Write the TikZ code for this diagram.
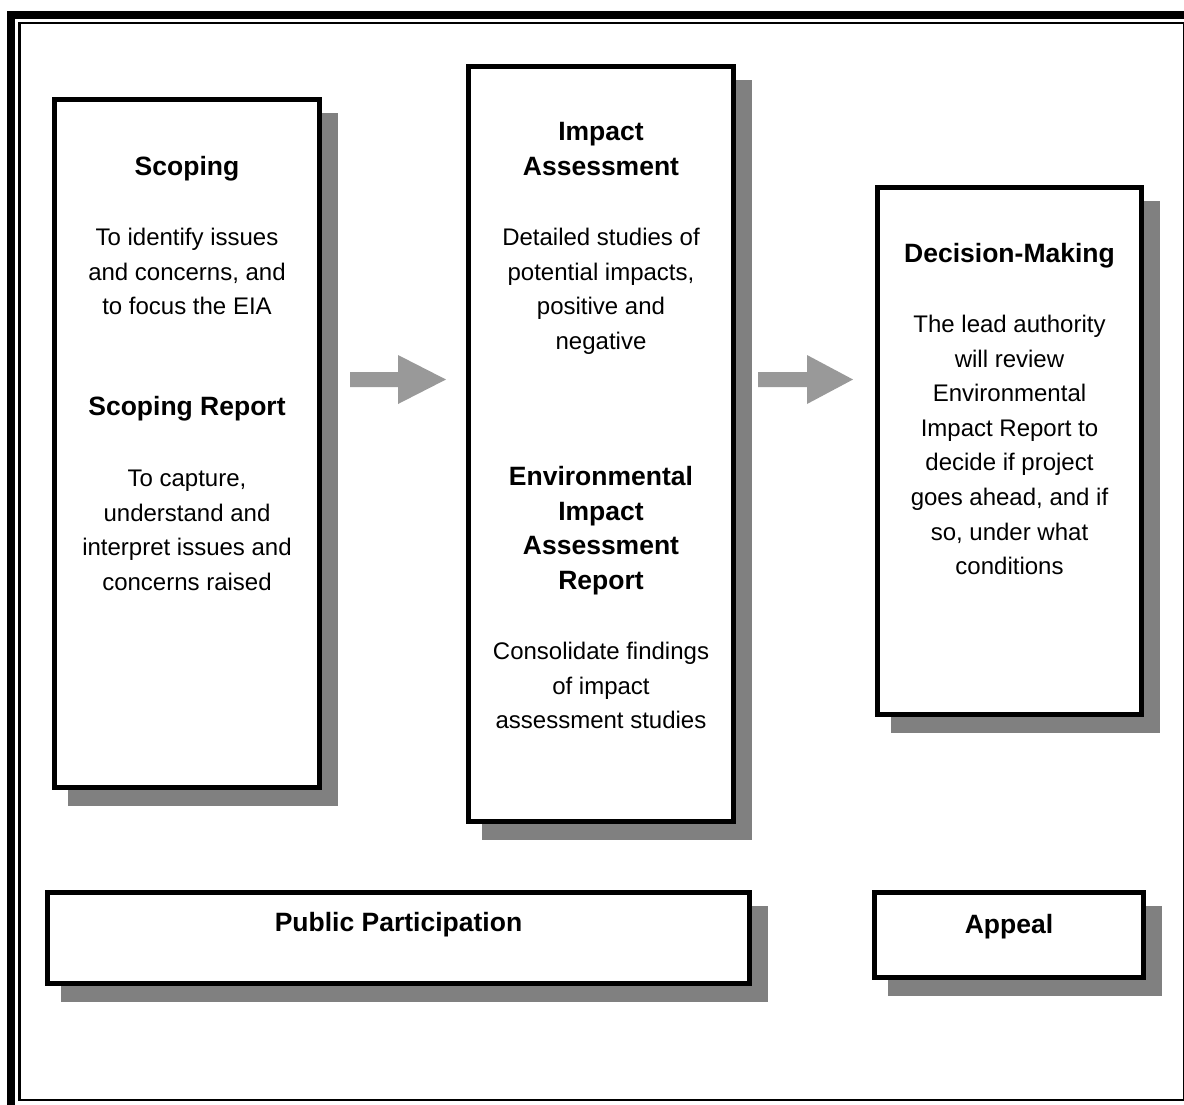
\documentclass[tikz,border=0pt]{standalone}
\usepackage{fontspec}
\setmainfont{Liberation Sans}
\usetikzlibrary{shadows}

\newcommand{\txtsize}{\fontsize{24}{34.6}\selectfont}
\newcommand{\headsize}{\fontsize{26.5}{34.6}\selectfont\bfseries}

\tikzset{
	stage/.style={draw=black, line width=5pt, fill=white, rectangle, inner sep=0pt,
		drop shadow={shadow xshift=16pt, shadow yshift=-16pt, fill=black!50, draw=black!50, line width=5pt, opacity=1}},
	% base of a multi-line node sits on its last line
	head/.style={align=center, font=\headsize, anchor=base, inner sep=0pt},
	txt/.style={align=center, font=\txtsize, anchor=base, inner sep=0pt},
	flow/.style={fill=black!40}
}

\begin{document}
\begin{tikzpicture}[x=1pt, y=-1pt]
		\useasboundingbox (0,0) rectangle (1184,1104);
		\fill[white] (0,0) rectangle (1184,1104);
		% frame
		\draw[line width=8pt] (11,14.5) rectangle (1200,1120);
		\draw[line width=2.5pt] (19.5,23) rectangle (1184,1100);
		% stages
		\node[stage, minimum width=265pt, minimum height=688pt] (scoping) at (187,443.5) {};
		\node[stage, minimum width=265pt, minimum height=755pt] (impact) at (601,444) {};
		\node[stage, minimum width=264pt, minimum height=527pt] (decision) at (1009.5,451) {};
		\node[stage, minimum width=702pt, minimum height=91pt] (public) at (398.5,938) {};
		\node[stage, minimum width=269pt, minimum height=85pt] (appeal) at (1009,935) {};
		% arrows between stages
		\fill[flow] (350,372) -- (398,372) -- (398,355) -- (446,379.5) -- (398,404) -- (398,387) -- (350,387) -- cycle;
		\fill[flow] (758,372) -- (807,372) -- (807,355) -- (853,379.5) -- (807,404) -- (807,387) -- (758,387) -- cycle;
		% scoping
		\node[head] (scoping-t) at (187,175.5) {Scoping};
		\node[txt] (scoping-d) at (187,314.7) {To identify issues\\and concerns, and\\to focus the EIA};
		\node[head] (report-t) at (187,415.5) {Scoping Report};
		\node[txt] (report-d) at (187,590.3) {To capture,\\understand and\\interpret issues and\\concerns raised};
		% impact assessment
		\node[head] (impact-t) at (601,175.1) {Impact\\Assessment};
		\node[txt] (impact-d) at (601,349.3) {Detailed studies of\\potential impacts,\\positive and\\negative};
		\node[head] (eiar-t) at (601,589.3) {Environmental\\Impact\\Assessment\\Report};
		\node[txt] (eiar-d) at (601,728.7) {Consolidate findings\\of impact\\assessment studies};
		% decision
		\node[head] (decision-t) at (1009.5,262.5) {Decision-Making};
		\node[txt] (decision-d) at (1009.5,574.7) {The lead authority\\will review\\Environmental\\Impact Report to\\decide if project\\goes ahead, and if\\so, under what\\conditions};
		% bottom row
		\node[head] (public-t) at (398.5,931.5) {Public Participation};
		\node[head] (appeal-t) at (1009,933.5) {Appeal};
	\end{tikzpicture}
\end{document}
